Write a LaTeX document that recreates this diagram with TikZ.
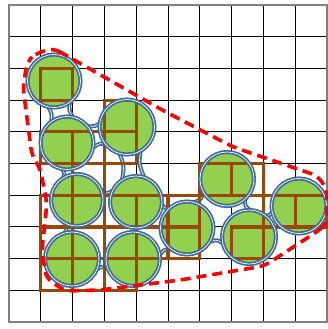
\documentclass[tikz,border=0pt]{standalone}
\usetikzlibrary{calc}
\definecolor{ballgreen}{HTML}{92D050}
\definecolor{ringblue}{HTML}{3F6A9A}
\definecolor{cellbrown}{HTML}{984807}
\newcommand\ballbridge[5]{%
  \foreach \s in {#5}{%
    \pgfmathsetmacro\angA{\s*#3}%
    \pgfmathsetmacro\angB{-\s*#3}%
    \pgfmathsetmacro\angC{\s*90}%
    \draw[ring] ($(#1)!24pt!\angA:(#2)$) .. controls ($(#1)!0.5!(#2)!#4pt!\angC:(#2)$) .. ($(#2)!24pt!\angB:(#1)$);}}
\begin{document}
\begin{tikzpicture}[x=1pt,y=-1pt,
  ring/.style={draw=ringblue, line width=1.7pt, double=white, double distance=0.7pt},
  gridline/.style={black, line width=1pt},
  cellbox/.style={draw=cellbrown, line width=3.2pt},
  hull/.style={draw=red, line width=3.6pt, dash pattern=on 10pt off 6pt, rounded corners=7pt}]
\useasboundingbox[fill=white] (0,0) rectangle (328,329);
% grid
\foreach \i in {1,...,9} \draw[gridline] ({9+31.8*\i},5) -- ({9+31.8*\i},322);
\foreach \j in {1,...,9} \draw[gridline] (9,{5+31.7*\j}) -- (327,{5+31.7*\j});
\draw[draw=gray, line width=1.5pt] (9,5) rectangle (327,322);
% ball centres
\coordinate (A) at (54,81);
\coordinate (B) at (67,143);
\coordinate (C) at (127,127);
\coordinate (D) at (77,200);
\coordinate (E) at (136,202);
\coordinate (F) at (72,259);
\coordinate (G) at (133,259);
\coordinate (H) at (187,228);
\coordinate (I) at (227,179);
\coordinate (J) at (249,237);
\coordinate (K) at (299,206);
% bridges
\ballbridge{A}{B}{32}{8}{1,-1}
\ballbridge{B}{C}{32}{8}{1,-1}
\ballbridge{B}{D}{35}{6}{-1}
\ballbridge{C}{E}{30}{7}{1,-1}
\ballbridge{D}{F}{35}{6}{-1}
\ballbridge{D}{E}{35}{6}{1}
\ballbridge{F}{G}{35}{6}{-1}
\ballbridge{G}{H}{35}{6}{-1}
\ballbridge{E}{H}{35}{6}{1}
\ballbridge{H}{I}{35}{6}{1}
\ballbridge{H}{J}{35}{6}{-1}
\ballbridge{I}{J}{35}{6}{1}
\ballbridge{J}{K}{35}{6}{1}
% green balls
\foreach \c/\r in {A/26.5,B/26.5,C/27.5,D/26,E/26,F/27,G/27,H/26.5,I/27,J/27,K/27.5}
  \fill[ballgreen] (\c) circle[radius=\r pt];
% brown cells
\foreach \i/\j in {1/2,1/4,2/4,3/3,3/4,2/5,1/6,2/6,3/6,4/6,1/7,2/7,1/8,2/8,3/7,4/7,3/8,5/6,5/7,6/5,7/5,7/7,8/6,9/6}
  \draw[cellbox] ({9+31.8*\i},{5+31.7*\j}) rectangle ++(31.8,31.7);
% rings
\foreach \c/\r in {A/26.5,B/26.5,C/27.5,D/26,E/26,F/27,G/27,H/26.5,I/27,J/27,K/27.5}
  \draw[ring] (\c) circle[radius=\r pt];
% hull
\draw[hull] (53,48) -- (164,111) -- (233,147) -- (277,162) -- (318,176) -- (327,190) -- (327,222) -- (321,229) -- (264,266) -- (180,280) -- (100,290) -- (65,291) -- (46,278) -- (42,250) -- (47,203) -- (40,168) -- (32,156) -- (23,88) -- (27,62) -- (35,54) -- cycle;
\end{tikzpicture}
\end{document}
